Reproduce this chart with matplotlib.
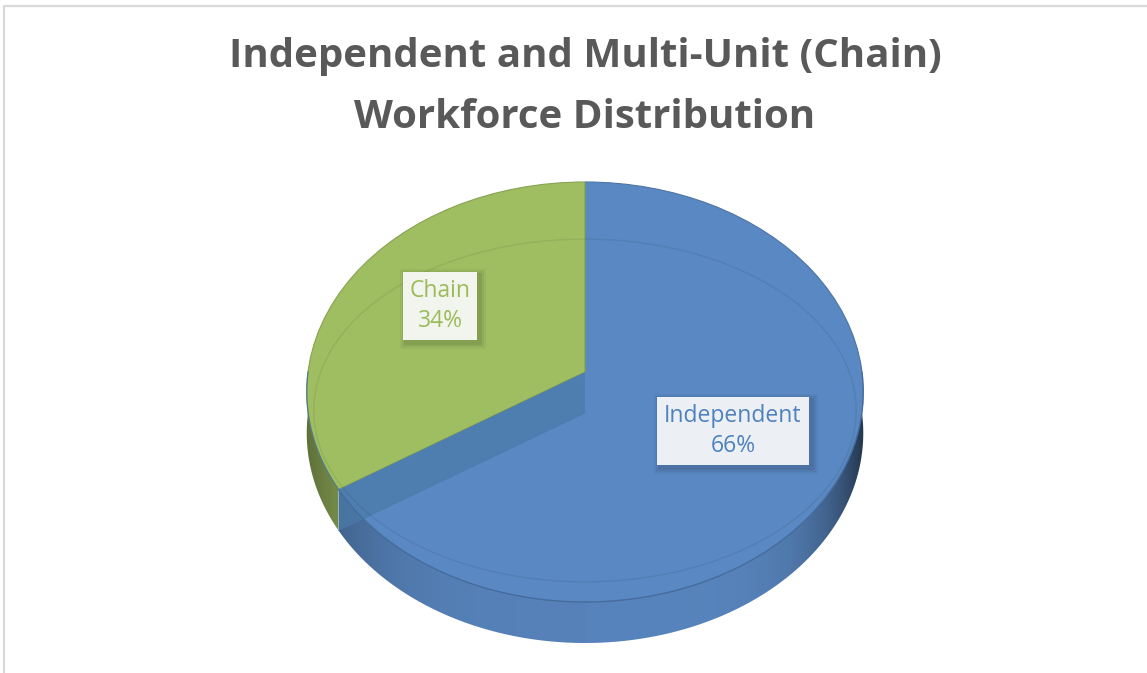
import numpy as np
import matplotlib
matplotlib.use("Agg")
import matplotlib.pyplot as plt
from matplotlib.patches import Polygon, PathPatch, Rectangle
from matplotlib.path import Path
from matplotlib.colors import to_rgb

# data
labels = ["Independent", "Chain"]
shares = [66, 34]
colors = ["#5A88C2", "#9FBE62"]
text_colors = ["#4F81BD", "#9BBB59"]
title_lines = ["Independent and Multi-Unit (Chain)", "Workforce Distribution"]

W, H = 1147, 673
fig = plt.figure(figsize=(W / 100, H / 100), dpi=100)
fig.patch.set_facecolor("white")

ax = fig.add_axes([0, 0, 1, 1])

# unit pie from matplotlib, then projected onto a tilted disc
wedges, _ = ax.pie(shares, colors=colors, startangle=90, counterclock=False,
                   radius=1, center=(0, 0))
ax.set_aspect("auto")
ax.set_xlim(0, W)
ax.set_ylim(H, 0)
ax.axis("off")

# tilt / perspective of the disc (pixels)
CX, CY = 585, 372
A, B, P = 277, 208.1, 0.0952
DEPTH = 41


def project(u, v):
    u = np.asarray(u, float)
    v = np.asarray(v, float)
    d = 1 + P * v
    return CX + A * u / d, CY - B * v / d


ax.plot([4, 4, W], [H, 6, 6], color="#D9D9D9", lw=1.6, solid_capstyle="butt")

for line, y in zip(title_lines, [57, 117]):
    ax.text(585, y, line, ha="center", va="center", fontsize=29,
            fontweight="bold", color="#595959", family="Open Sans")

top_paths = []
for w, c in zip(wedges, colors):
    path = w.get_path()
    x, y = project(path.vertices[:, 0], path.vertices[:, 1])
    top_paths.append(Path(np.column_stack([x, y]), path.codes))
    w.remove()


def owner(theta):
    for i, w in enumerate(wedges):
        t = (theta - w.theta1) % 360
        if t <= (w.theta2 - w.theta1):
            return i
    return 0


# side walls: one polygon per slice, filled with a horizontal gradient
angles = np.linspace(-180, 0, 721)
own = np.array([owner(a) for a in angles])
gx = np.linspace(290, 880, 600)
uu = (gx - CX) / A
for i, c in enumerate(colors):
    sel = angles[own == i]
    if len(sel) < 2:
        continue
    t = np.radians(sel)
    tx, ty = project(np.cos(t), np.sin(t))
    pts = np.column_stack([np.r_[tx, tx[::-1]], np.r_[ty, ty[::-1] + DEPTH]])
    poly = Polygon(pts, closed=True, facecolor="none", edgecolor="none")
    ax.add_patch(poly)
    shade = np.where(uu > 0, 0.97 - 0.55 * np.clip(uu, 0, 1) ** 6,
                     0.95 - 0.35 * np.clip(-uu, 0, 1) ** 4)
    rgb = np.clip(np.array(to_rgb(c))[None, :] * shade[:, None], 0, 1)
    img = np.repeat(rgb[None, :, :], 2, axis=0)
    im = ax.imshow(img, extent=(gx[0], gx[-1], 660, 370), aspect="auto",
                   interpolation="bilinear", zorder=2)
    im.set_clip_path(poly)

ax.set_xlim(0, W)
ax.set_ylim(H, 0)

for pth, c in zip(top_paths, colors):
    ax.add_patch(PathPatch(pth, facecolor=c,
                           edgecolor=tuple(np.array(to_rgb(c)) * 0.85),
                           lw=0.8, zorder=3))

# front rim seam
t = np.radians(angles)
rx, ry = project(np.cos(t), np.sin(t))
ax.plot(rx, ry, color="#3F6797", lw=0.9, alpha=0.7, zorder=4)

# radial cut face of the first slice, seen through the top
cut = np.radians(wedges[0].theta1)
c0 = project(0, 0)
c1 = project(np.cos(cut), np.sin(cut))
ax.add_patch(Polygon([c0, c1, (c1[0], c1[1] + DEPTH), (c0[0], c0[1] + DEPTH)],
                     closed=True, facecolor="#4A7BA8", alpha=0.7,
                     edgecolor="none", zorder=3.5))
ax.plot([c0[0], c1[0]], [c0[1] + DEPTH, c1[1] + DEPTH], color="#4A78AE",
        lw=0.8, alpha=0.6, zorder=3.6)

# faint bevel line on the top face
bt = np.radians(np.linspace(0, 360, 361))
bx, by = project(0.965 * np.cos(bt), -0.12 + 0.8 * np.sin(bt))
ax.plot(bx, by, color="black", alpha=0.07, lw=1.0, zorder=3.7)

# data labels
label_pos = [(733, 431), (440, 306)]
boxes = []
for lab, val, (x, y), tc in zip(labels, shares, label_pos, text_colors):
    txt = ax.text(x, y, f"{lab}\n{val}%", ha="center", va="center",
                  fontsize=16.5, family="Open Sans", color=tc,
                  linespacing=1.3, zorder=6,
                  bbox=dict(boxstyle="square,pad=0.3", facecolor="white",
                            alpha=0.9, edgecolor="none"))
    boxes.append(txt)

# soft shadow behind the label boxes
fig.canvas.draw()
inv = ax.transData.inverted()
for txt in boxes:
    bb = txt.get_bbox_patch().get_window_extent()
    (x0, y0), (x1, y1) = inv.transform([(bb.x0, bb.y0), (bb.x1, bb.y1)])
    for k, a in [(6, 0.04), (4, 0.05), (2, 0.07)]:
        ax.add_patch(Rectangle((x0 - k + 3, y1 - k + 3), (x1 - x0) + 2 * k,
                               (y0 - y1) + 2 * k, facecolor="black", alpha=a,
                               edgecolor="none", zorder=5))

fig.savefig("out.png", dpi=100, facecolor="white")
